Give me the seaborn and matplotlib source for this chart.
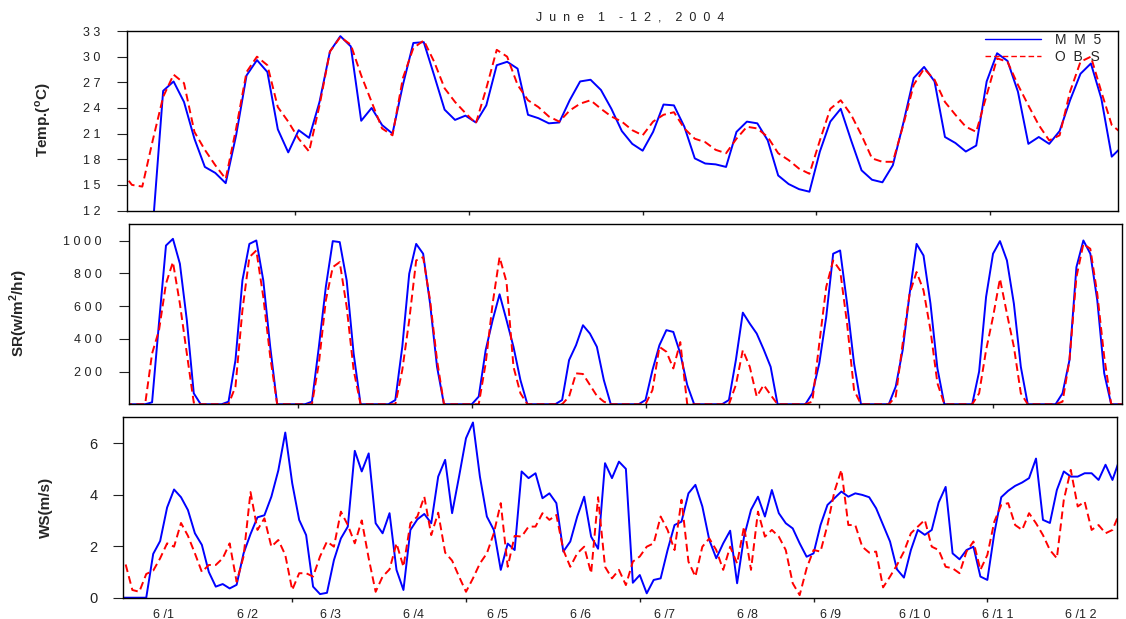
import numpy as np
import pandas as pd
import matplotlib.pyplot as plt
import seaborn as sns

# hours counted from 6/1 00:00
temp_hours = np.arange(0, 289, 3)
temp_mm5 = [np.nan, np.nan, np.nan, 10.0, 26.0, 27.1, 24.7, 20.4,
            17.1, 16.4, 15.2, 20.8, 27.8, 29.6, 28.2, 21.5,
            18.8, 21.4, 20.5, 24.7, 30.6, 32.4, 31.2, 22.5,
            24.0, 22.0, 21.0, 26.7, 31.6, 31.7, 27.8, 23.8,
            22.6, 23.1, 22.3, 24.3, 29.0, 29.4, 28.6, 23.2,
            22.8, 22.2, 22.3, 24.9, 27.1, 27.3, 26.1, 23.9,
            21.3, 19.8, 19.0, 21.2, 24.4, 24.3, 21.8, 18.1,
            17.5, 17.4, 17.1, 21.2, 22.4, 22.2, 20.2, 16.1,
            15.1, 14.5, 14.2, 18.9, 22.4, 23.9, 20.2, 16.7,
            15.6, 15.3, 17.3, 22.2, 27.5, 28.8, 27.1, 20.6,
            19.9, 18.9, 19.6, 27.1, 30.4, 29.5, 25.9, 19.8,
            20.6, 19.8, 21.3, 24.9, 28.0, 29.2, 25.1, 18.3,
            19.5]
temp_obs = [16.6, 15.0, 14.8, 20.2, 25.3, 27.9, 26.9, 21.2,
            19.1, 17.3, 15.7, 21.6, 28.2, 30.0, 29.0, 24.1,
            22.4, 20.4, 18.9, 24.3, 30.6, 32.3, 31.4, 27.8,
            24.7, 21.6, 20.8, 27.5, 31.0, 31.9, 29.4, 26.3,
            24.7, 23.4, 22.2, 26.3, 30.8, 30.0, 26.7, 24.9,
            24.1, 23.0, 22.4, 23.7, 24.5, 24.9, 23.9, 23.0,
            22.4, 21.4, 20.8, 22.4, 23.2, 23.5, 21.6, 20.4,
            20.0, 19.1, 18.7, 20.4, 21.8, 21.6, 20.6, 18.7,
            17.9, 16.9, 16.3, 20.2, 23.9, 24.9, 23.2, 20.8,
            18.1, 17.7, 17.7, 22.0, 26.7, 28.6, 27.3, 24.7,
            23.2, 21.8, 21.2, 25.5, 29.8, 29.4, 26.7, 24.3,
            22.0, 20.2, 20.8, 25.9, 29.4, 30.0, 25.9, 22.0,
            21.0]

sr_hours = np.arange(0, 289, 2)
sr_mm5 = [0, 0, 0, 0, 12, 500, 970, 1011, 859, 514, 67, 0,
          0, 0, 0, 16, 270, 757, 980, 1001, 757, 351, 0, 0,
          0, 0, 0, 16, 351, 717, 997, 991, 757, 310, 0, 0,
          0, 0, 0, 26, 351, 798, 980, 920, 615, 229, 0, 0,
          0, 0, 0, 47, 331, 514, 672, 514, 351, 148, 0, 0,
          0, 0, 0, 26, 270, 361, 483, 432, 351, 148, 0, 0,
          0, 0, 0, 26, 209, 361, 453, 442, 310, 118, 0, 0,
          0, 0, 0, 26, 270, 560, 493, 432, 335, 229, 0, 0,
          0, 0, 0, 67, 250, 534, 920, 940, 615, 250, 0, 0,
          0, 0, 0, 108, 331, 676, 980, 909, 615, 219, 0, 0,
          0, 0, 0, 200, 656, 920, 997, 879, 615, 229, 0, 0,
          0, 0, 0, 67, 270, 838, 1001, 920, 635, 189, 0, 0,
          0]
sr_obs = [0, 0, 0, 0, 310, 453, 737, 869, 615, 310, 10, 0,
          0, 0, 0, 0, 108, 575, 899, 940, 656, 290, 0, 0,
          0, 0, 0, 0, 250, 635, 838, 869, 595, 209, 0, 0,
          0, 0, 0, 0, 209, 514, 879, 899, 635, 270, 0, 0,
          0, 0, 0, 0, 250, 615, 899, 747, 229, 67, 0, 0,
          0, 0, 0, 0, 47, 189, 185, 118, 51, 16, 0, 0,
          0, 0, 0, 0, 87, 351, 321, 219, 380, 0, 0, 0,
          0, 0, 0, 0, 118, 331, 229, 47, 118, 57, 0, 0,
          0, 0, 0, 16, 371, 717, 879, 818, 493, 87, 0, 0,
          0, 0, 0, 47, 371, 676, 808, 696, 453, 128, 0, 0,
          0, 0, 0, 67, 331, 534, 767, 554, 351, 67, 0, 0,
          0, 0, 0, 16, 270, 777, 980, 950, 676, 290, 0, 0,
          0]

ws_hours = np.arange(0, 289, 2)
ws_mm5 = [0, 0, 0, 0, 0, 1.7, 2.2, 3.5, 4.2, 3.9, 3.4, 2.5,
          2.05, 1.0, 0.43, 0.53, 0.36, 0.5, 1.72, 2.47, 3.12, 3.2, 3.92, 4.94,
          6.41, 4.44, 3.02, 2.43, 0.43, 0.14, 0.19, 1.46, 2.3, 2.76, 5.7, 4.9,
          5.6, 2.89, 2.5, 3.28, 1.08, 0.3, 2.63, 3.04, 3.25, 2.89, 4.7, 5.35,
          3.28, 4.7, 6.19, 6.8, 4.7, 3.15, 2.63, 1.08, 2.1, 1.85, 4.9, 4.64,
          4.83, 3.86, 4.05, 3.67, 1.79, 2.18, 3.15, 3.92, 2.37, 1.9, 5.22, 4.64,
          5.28, 5.0, 0.58, 0.88, 0.17, 0.69, 0.75, 1.85, 2.82, 2.95, 4.05, 4.38,
          3.54, 2.24, 1.53, 2.11, 2.6, 0.56, 2.37, 3.41, 3.92, 3.15, 4.18, 3.28,
          2.89, 2.69, 2.11, 1.59, 1.72, 2.82, 3.6, 3.86, 4.12, 3.92, 4.05, 3.99,
          3.9, 3.47, 2.82, 2.18, 1.1, 0.78, 1.85, 2.63, 2.44, 2.63, 3.7, 4.3,
          1.72, 1.49, 1.85, 1.98, 0.82, 0.69, 2.5, 3.9, 4.15, 4.34, 4.47, 4.64,
          5.4, 3.02, 2.9, 4.18, 4.9, 4.7, 4.7, 4.83, 4.83, 4.57, 5.16, 4.57,
          5.35]
ws_obs = [1.0, 1.33, 0.3, 0.23, 0.92, 1.05, 1.53, 2.11, 1.98, 2.9, 2.4, 1.72,
          1.0, 1.27, 1.27, 1.53, 2.11, 0.62, 1.6, 4.1, 2.63, 3.08, 1.98, 2.24,
          1.66, 0.3, 0.95, 0.95, 0.82, 1.6, 2.18, 1.98, 3.34, 2.82, 2.11, 3.0,
          1.53, 0.23, 0.82, 1.1, 2.11, 1.2, 2.89, 3.15, 3.92, 2.43, 3.3, 1.75,
          1.44, 0.82, 0.23, 0.75, 1.33, 1.72, 2.5, 3.67, 1.2, 2.4, 2.37, 2.76,
          2.76, 3.28, 3.02, 3.21, 1.85, 1.2, 1.72, 1.98, 0.95, 3.9, 1.2, 0.75,
          1.08, 0.49, 1.4, 1.6, 1.98, 2.11, 3.15, 2.63, 1.85, 3.8, 1.4, 0.82,
          1.98, 2.3, 1.85, 1.08, 1.98, 1.33, 2.76, 1.08, 3.34, 2.37, 2.63, 2.37,
          1.85, 0.56, 0.1, 1.14, 1.85, 1.79, 2.82, 4.12, 4.96, 2.82, 2.82, 1.98,
          1.75, 1.79, 0.4, 0.82, 1.27, 1.79, 2.5, 2.76, 3.02, 1.98, 1.85, 1.2,
          1.14, 0.95, 1.79, 2.18, 1.08, 1.66, 2.95, 3.6, 3.67, 2.82, 2.63, 3.28,
          2.89, 2.43, 1.85, 1.53, 3.8, 4.96, 3.54, 3.73, 2.63, 2.82, 2.5, 2.63,
          3.28]

day_labels = ['6 /1', '6 /2', '6 /3', '6 /4', '6 /5', '6 /6', '6 /7', '6 /8',
              '6 /9', '6 /1 0', '6 /1 1', '6 /1 2']

MM5_COLOR = '#0000ff'
OBS_COLOR = '#ff0000'


def draw_pair(ax, hours, mm5, obs):
    df = pd.DataFrame({'hour': hours, 'MM5': mm5, 'OBS': obs})
    sns.lineplot(data=df, x='hour', y='MM5', ax=ax, color=MM5_COLOR,
                 linewidth=1.4, estimator=None, label='M  M  5', legend=False)
    sns.lineplot(data=df, x='hour', y='OBS', ax=ax, color=OBS_COLOR,
                 linewidth=1.4, linestyle=(0, (4, 2.2)), estimator=None,
                 label='O  B  S', legend=False)
    ax.set_xlabel('')
    ax.set_ylabel('')


def style_panel(ax, xlim, ylim, yticks, ylabels, ysize, ypad):
    ax.set_xlim(*xlim)
    ax.set_ylim(*ylim)
    ax.set_yticks(yticks, ylabels)
    ax.tick_params(axis='y', direction='out', length=7, width=0.8,
                   pad=ypad, labelsize=ysize, colors='#222222')
    ax.set_xticks(np.arange(50, 290, 50))
    ax.tick_params(axis='x', direction='out', length=3, width=1.0,
                   labelbottom=False, colors='#222222')
    for sp in ax.spines.values():
        sp.set_visible(True)
        sp.set_color('black')
        sp.set_linewidth(1.0)


sns.set_theme(style="ticks")
plt.rcParams['font.family'] = ['Liberation Sans', 'DejaVu Sans']

fig = plt.figure(figsize=(11.26, 6.19), dpi=100)
ax_t = fig.add_axes([0.1128, 0.6599, 0.8801, 0.2900])
ax_s = fig.add_axes([0.1150, 0.3469, 0.8814, 0.2908])
ax_w = fig.add_axes([0.1092, 0.0344, 0.8828, 0.2914])

# temperature
draw_pair(ax_t, temp_hours, temp_mm5, temp_obs)
style_panel(ax_t, (1.6, 286.8), (12, 33), np.arange(12, 34, 3),
            [' '.join(str(v)) for v in range(12, 34, 3)], 9, 12)
leg = ax_t.legend(loc='upper left', bbox_to_anchor=(0.866, 0.99),
                  frameon=False, fontsize=10, handlelength=4.0,
                  handletextpad=1.0, labelspacing=0.25, borderpad=0,
                  borderaxespad=0)
for line in leg.get_lines():
    line.set_linewidth(1.0)

# solar radiation
draw_pair(ax_s, sr_hours, sr_mm5, sr_obs)
style_panel(ax_s, (1.5, 287.1), (0, 1100), np.arange(200, 1001, 200),
            [' '.join(str(v)) for v in range(200, 1001, 200)], 9, 13)

# wind speed
draw_pair(ax_w, ws_hours, ws_mm5, ws_obs)
style_panel(ax_w, (1.3, 287.3), (0, 7), [0, 2, 4, 6],
            ['0', '2', '4', '6'], 10.5, 11.5)
ax_w.set_xticks(np.arange(50, 290, 50), minor=True)
ax_w.set_xticks(13 + 24 * np.arange(len(day_labels)), day_labels)
ax_w.tick_params(axis='x', which='major', length=0, pad=8,
                 labelbottom=True, labelsize=9, colors='#222222')
ax_w.tick_params(axis='x', which='minor', direction='out', length=3,
                 width=1.0, colors='#222222')

# axis titles
fig.text(43 / 1126, 1 - 120 / 619, r'Temp.($^\mathregular{o}$C)',
         rotation=90, ha='center', va='center', fontsize=11, fontweight='bold')
fig.text(19 / 1126, 1 - 313 / 619, r'SR(w/m$^\mathregular{2}$/hr)',
         rotation=90, ha='center', va='center', fontsize=11, fontweight='bold')
fig.text(46 / 1126, 1 - 507 / 619, 'WS(m/s)',
         rotation=90, ha='center', va='center', fontsize=11, fontweight='bold')

fig.text(630 / 1126, 1 - 17 / 619, 'J  u  n  e    1    -  1  2  ,    2  0  0  4',
         ha='center', va='center', fontsize=9, color='#222222')

plt.savefig('out.png', dpi=100)
